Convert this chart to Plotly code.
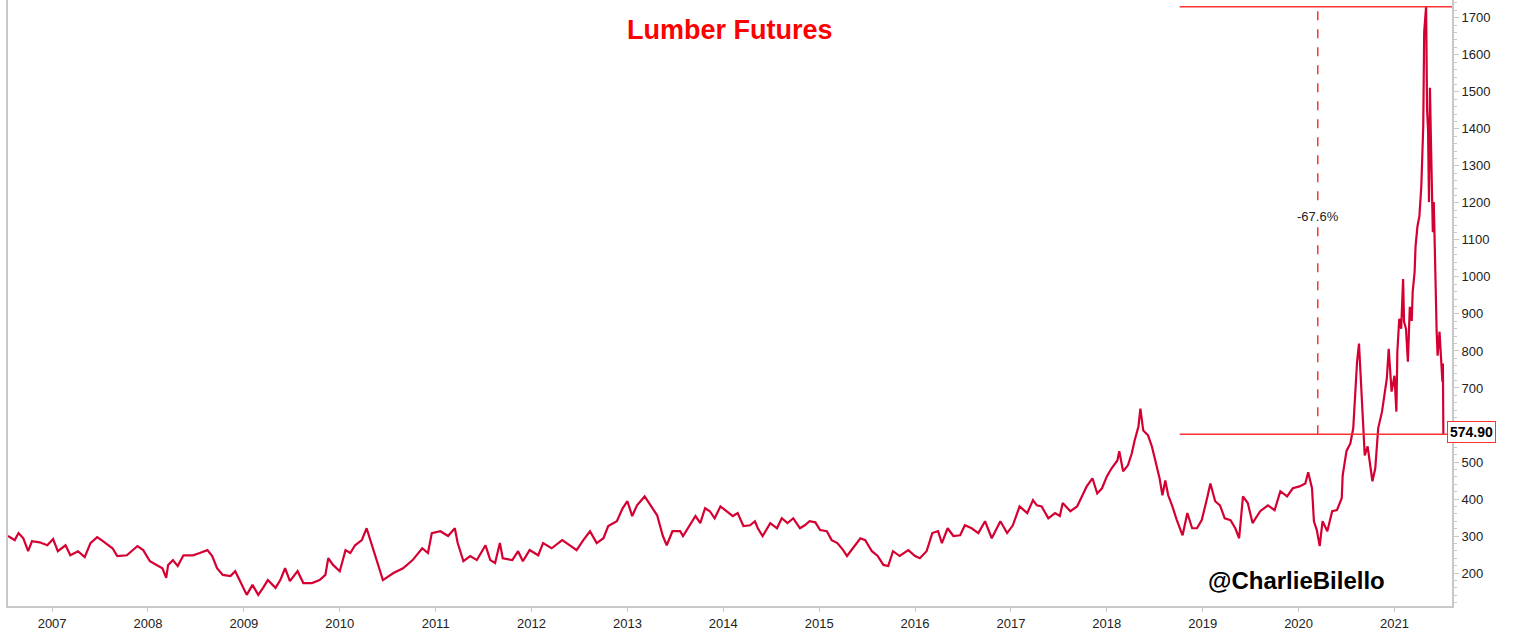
import plotly.graph_objects as go

# lumber futures, x in decimal years, y in $
yr = [
    2006.54, 2006.61, 2006.65, 2006.70, 2006.75, 2006.79, 2006.87, 2006.95, 2007.01, 2007.06,
    2007.14, 2007.19, 2007.27, 2007.34, 2007.40, 2007.47, 2007.53, 2007.63, 2007.68, 2007.78,
    2007.89, 2007.95, 2008.02, 2008.09, 2008.15, 2008.19, 2008.21, 2008.26, 2008.31, 2008.37,
    2008.47, 2008.54, 2008.62, 2008.67, 2008.72, 2008.78, 2008.86, 2008.91, 2008.96, 2009.03,
    2009.09, 2009.15, 2009.20, 2009.25, 2009.33, 2009.38, 2009.43, 2009.48, 2009.56, 2009.62,
    2009.71, 2009.79, 2009.85, 2009.88, 2009.93, 2010.00, 2010.06, 2010.11, 2010.16, 2010.23,
    2010.28, 2010.34, 2010.39, 2010.45, 2010.56, 2010.66, 2010.76, 2010.86, 2010.92, 2010.96,
    2011.05, 2011.13, 2011.20, 2011.23, 2011.29, 2011.36, 2011.43, 2011.52, 2011.57, 2011.62,
    2011.67, 2011.70, 2011.80, 2011.86, 2011.91, 2011.98, 2012.07, 2012.12, 2012.21, 2012.32,
    2012.40, 2012.47, 2012.54, 2012.61, 2012.68, 2012.75, 2012.80, 2012.89, 2012.95, 2013.00,
    2013.05, 2013.10, 2013.18, 2013.24, 2013.31, 2013.37, 2013.41, 2013.47, 2013.55, 2013.58,
    2013.63, 2013.71, 2013.76, 2013.81, 2013.86, 2013.91, 2013.97, 2014.04, 2014.10, 2014.15,
    2014.21, 2014.28, 2014.33, 2014.36, 2014.41, 2014.49, 2014.56, 2014.61, 2014.67, 2014.73,
    2014.80, 2014.85, 2014.90, 2014.96, 2015.01, 2015.08, 2015.13, 2015.19, 2015.25, 2015.29,
    2015.35, 2015.43, 2015.48, 2015.55, 2015.61, 2015.67, 2015.72, 2015.77, 2015.84, 2015.93,
    2016.00, 2016.05, 2016.12, 2016.18, 2016.24, 2016.28, 2016.34, 2016.40, 2016.47, 2016.52,
    2016.59, 2016.66, 2016.73, 2016.80, 2016.89, 2016.96, 2017.02, 2017.09, 2017.17, 2017.23,
    2017.27, 2017.32, 2017.39, 2017.46, 2017.51, 2017.54, 2017.62, 2017.69, 2017.74, 2017.79,
    2017.85, 2017.90, 2017.95, 2018.00, 2018.05, 2018.11, 2018.13, 2018.17, 2018.22, 2018.26,
    2018.29, 2018.33, 2018.35, 2018.38, 2018.43, 2018.47, 2018.50, 2018.55, 2018.58, 2018.61,
    2018.64, 2018.68, 2018.73, 2018.79, 2018.84, 2018.89, 2018.94, 2018.99, 2019.05, 2019.08,
    2019.13, 2019.18, 2019.23, 2019.29, 2019.34, 2019.38, 2019.42, 2019.47, 2019.52, 2019.60,
    2019.68, 2019.75, 2019.81, 2019.88, 2019.94, 2020.01, 2020.07, 2020.10, 2020.14, 2020.15,
    2020.16, 2020.19, 2020.22, 2020.25, 2020.30, 2020.35, 2020.40, 2020.45, 2020.46, 2020.50,
    2020.54, 2020.57, 2020.59, 2020.61, 2020.63, 2020.65, 2020.67, 2020.69, 2020.72, 2020.77,
    2020.80, 2020.82, 2020.83, 2020.87, 2020.90, 2020.92, 2020.94, 2020.97, 2021.00, 2021.02,
    2021.03, 2021.05, 2021.07, 2021.09, 2021.10, 2021.12, 2021.14, 2021.16, 2021.18, 2021.19,
    2021.21, 2021.22, 2021.24, 2021.26, 2021.28, 2021.29, 2021.30, 2021.31, 2021.33, 2021.34,
    2021.35, 2021.36, 2021.37, 2021.38, 2021.39, 2021.40, 2021.41, 2021.42, 2021.43, 2021.44,
    2021.45, 2021.47, 2021.50, 2021.505, 2021.51,
]
price = [
    300, 289, 308, 294, 259, 286, 283, 275, 292, 259,
    275, 248, 259, 243, 281, 297, 286, 267, 246, 248,
    273, 262, 232, 222, 213, 187, 222, 235, 219, 248,
    248, 254, 262, 246, 213, 195, 192, 205, 178, 141,
    168, 141, 160, 181, 160, 181, 213, 178, 205, 173,
    173, 181, 195, 240, 222, 205, 262, 254, 275, 289,
    321, 273, 235, 181, 200, 213, 235, 267, 254, 308,
    313, 300, 321, 281, 232, 246, 235, 275, 235, 227,
    281, 240, 235, 259, 232, 262, 248, 281, 267, 289,
    275, 262, 289, 313, 281, 294, 327, 340, 375, 394,
    354, 383, 407, 383, 356, 300, 275, 313, 313, 300,
    321, 354, 335, 375, 367, 348, 380, 367, 354, 362,
    327, 329, 340, 321, 300, 335, 321, 348, 335, 348,
    321, 329, 340, 337, 316, 313, 289, 281, 262, 246,
    267, 294, 289, 259, 246, 222, 219, 259, 246, 262,
    246, 240, 259, 308, 313, 281, 321, 300, 302, 329,
    321, 308, 340, 294, 340, 308, 329, 380, 362, 397,
    383, 380, 348, 362, 354, 389, 367, 380, 407, 434,
    456, 415, 429, 461, 483, 504, 529, 475, 491, 523,
    558, 596, 644, 585, 572, 542, 510, 456, 410, 450,
    410, 383, 343, 302, 362, 321, 321, 343, 407, 442,
    394, 383, 348, 343, 321, 294, 407, 389, 335, 367,
    383, 370, 421, 407, 429, 434, 442, 472, 429, 383,
    340, 316, 273, 340, 313, 367, 370, 402, 464, 530,
    550, 591, 679, 771, 820, 725, 626, 518, 542, 448,
    483, 555, 591, 636, 690, 725, 806, 690, 733, 636,
    798, 887, 860, 994, 879, 860, 771, 919, 881, 960,
    1013, 1083, 1137, 1164, 1245, 1372, 1407, 1662, 1730, 1452,
    1398, 1202, 1511, 1372, 1256, 1121, 1202, 1056, 935, 852,
    787, 852, 717, 766, 574.9,
]

year_ticks = list(range(2007, 2022))
price_ticks = list(range(200, 1800, 100))

peak = 1730
last = 574.90
drop_from = 2018.76   # where the two horizontal guide lines start
drop_x = 2020.20      # dashed measure line
drop_label = "-67.6%"

RED = "#FF3333"
LINE = "#D50032"
GREY = "#c8c8c8"
FONT = "Arial, Liberation Sans, sans-serif"

fig = go.Figure()
fig.add_trace(go.Scatter(x=yr, y=price, mode="lines",
                         line=dict(color=LINE, width=2.2), showlegend=False,
                         hoverinfo="skip"))

# guide lines: peak, last, and the dashed drawdown marker
fig.add_shape(type="line", xref="x", yref="y", x0=drop_from, x1=2021.60, y0=peak, y1=peak,
              line=dict(color=RED, width=1.5))
fig.add_shape(type="line", xref="x", yref="y", x0=drop_from, x1=2021.60, y0=last, y1=last,
              line=dict(color=RED, width=1.5))
fig.add_shape(type="line", xref="x", yref="y", x0=drop_x, x1=drop_x, y0=last, y1=peak,
              line=dict(color=RED, width=1.5, dash="dash"))

fig.add_annotation(x=drop_x, y=1164, text=drop_label, showarrow=False,
                   bgcolor="white", font=dict(family=FONT, size=13, color="#222"))
fig.add_annotation(x=1, xref="paper", y=last, yref="y", text="<b>%.2f</b>" % last,
                   showarrow=False, xanchor="left", xshift=-5, yshift=2,
                   bgcolor="white", bordercolor=RED, borderwidth=1, borderpad=2,
                   font=dict(family=FONT, size=14, color="black"))
fig.add_annotation(x=0.5, xref="paper", y=0.95, yref="paper", yanchor="middle",
                   text="<b>Lumber Futures</b>", showarrow=False,
                   font=dict(family=FONT, size=27, color="#FF0000"))
fig.add_annotation(x=2019.98, y=180, text="<b>@CharlieBilello</b>", showarrow=False,
                   font=dict(family=FONT, size=24, color="black"))

fig.update_layout(
    width=1522, height=631,
    margin=dict(l=8, r=70, t=0, b=23),
    paper_bgcolor="white", plot_bgcolor="white",
    font=dict(family=FONT, size=13, color="#222"),
)
fig.update_xaxes(range=[2006.54, 2021.60], tickvals=year_ticks,
                 ticktext=[str(y) for y in year_ticks],
                 showgrid=False, zeroline=False, showline=True, linecolor=GREY,
                 linewidth=2, ticks="outside", ticklen=4, tickcolor=GREY)
fig.update_yaxes(range=[111, 1748], side="right", tickvals=price_ticks,
                 showgrid=False, zeroline=False, showline=True, mirror=True,
                 linecolor=GREY, linewidth=2, ticks="outside", ticklen=5,
                 tickcolor=GREY,
                 minor=dict(ticks="outside", ticklen=3, dtick=20, tickcolor=GREY))

fig.write_html("out.html", config={"displayModeBar": False},
               post_script="document.body.style.margin='0';")
